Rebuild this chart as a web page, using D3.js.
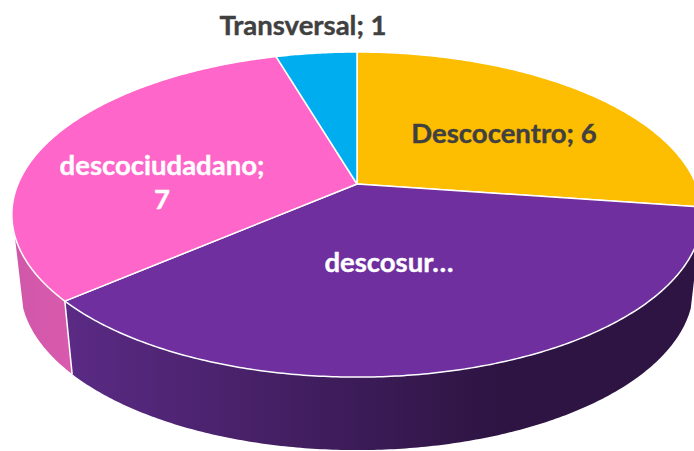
<!DOCTYPE html>
<html>
<head>
<meta charset="utf-8">
<script src="https://cdn.jsdelivr.net/npm/d3@7"></script>
<style>
  html, body { margin: 0; background: #fff; overflow: hidden; }
  text { font-family: Lato, "Open Sans", sans-serif; font-weight: 700; }
</style>
</head>
<body>
<script>
var categories = ["Descocentro", "descosur", "descociudadano", "Transversal"];
var values = [6, 8, 7, 1];
var sliceColors = ["#fdbd00", "#6f2f9e", "#ff66c9", "#00aeef"];

var width = 694, height = 451;
var cx = 357, cy = 184, radius = 339, squash = 156.8, tilt = -0.188, depth = 73, bottomShrink = 0.975;

// pie tilted in perspective: apex is not at the middle of the ellipse
function project(angle, r, bottom) {
  var u = Math.sin(angle) * r, v = -Math.cos(angle) * r;
  var w = 1 + tilt * v;
  var s = bottom ? bottomShrink : 1;
  return [cx + s * radius * u / w, cy + squash * v / w + (bottom ? depth : 0)];
}

function arcPoints(a0, a1, bottom) {
  var n = Math.max(2, Math.ceil((a1 - a0) / 0.01));
  return d3.range(n + 1).map(function(i) {
    return project(a0 + (a1 - a0) * i / n, 1, bottom);
  });
}

var line = d3.line();
var pie = d3.pie().sort(null).value(function(d) { return d; });
var slices = pie(values);

var svg = d3.select("body").append("svg")
  .attr("width", width)
  .attr("height", height)
  .style("display", "block");

var defs = svg.append("defs");
var purpleSide = defs.append("linearGradient")
  .attr("id", "purpleSide")
  .attr("gradientUnits", "userSpaceOnUse")
  .attr("x1", 72).attr("x2", 500).attr("y1", 0).attr("y2", 0);
purpleSide.append("stop").attr("offset", 0).attr("stop-color", "#5a2a84");
purpleSide.append("stop").attr("offset", 1).attr("stop-color", "#2d1442");

var pinkSide = defs.append("linearGradient")
  .attr("id", "pinkSide")
  .attr("gradientUnits", "userSpaceOnUse")
  .attr("x1", 14).attr("x2", 72).attr("y1", 0).attr("y2", 0);
pinkSide.append("stop").attr("offset", 0).attr("stop-color", "#d057a9");
pinkSide.append("stop").attr("offset", 1).attr("stop-color", "#d95aae");

// side walls, only the two slices that face the viewer
// walls stop at the silhouette, 18 degrees below the widest point of the ellipse
var purple = slices[1], pink = slices[2];
var rightEdge = Math.PI * 0.6, leftEdge = Math.PI * 1.4;

svg.append("path")
  .attr("d", line(arcPoints(rightEdge, purple.endAngle, false)
    .concat(arcPoints(rightEdge, purple.endAngle, true).reverse())) + "Z")
  .attr("fill", "url(#purpleSide)");

svg.append("path")
  .attr("d", line(arcPoints(pink.startAngle, leftEdge, false)
    .concat(arcPoints(pink.startAngle, leftEdge, true).reverse())) + "Z")
  .attr("fill", "url(#pinkSide)");

// white seam between the two walls
svg.append("path")
  .attr("d", line([project(purple.endAngle, 1, false), project(purple.endAngle, 1, true)]))
  .attr("fill", "none")
  .attr("stroke", "#fff")
  .attr("stroke-width", 1.5);

// top face
svg.selectAll("path.slice")
  .data(slices)
  .enter().append("path")
  .attr("class", "slice")
  .attr("d", function(d) {
    return line([[cx, cy]].concat(arcPoints(d.startAngle, d.endAngle, false))) + "Z";
  })
  .attr("fill", function(d, i) { return sliceColors[i]; })
  .attr("stroke", "#fff")
  .attr("stroke-width", 1.5)
  .attr("stroke-linejoin", "round");

var fontSize = 27.5;

function label(x, y, str, color) {
  svg.append("text")
    .attr("x", x)
    .attr("y", y)
    .attr("text-anchor", "middle")
    .attr("font-size", fontSize)
    .attr("fill", color)
    .attr("stroke", color)
    .attr("stroke-width", 0.4)
    .text(str);
}

label(504, 143, categories[0] + "; " + values[0], "#404040");
label(303, 35, categories[3] + "; " + values[3], "#404040");
label(162, 175, categories[2] + ";", "#fff");
label(162, 209, values[2], "#fff");
label(389, 272, categories[1] + "…", "#fff");
</script>
</body>
</html>
